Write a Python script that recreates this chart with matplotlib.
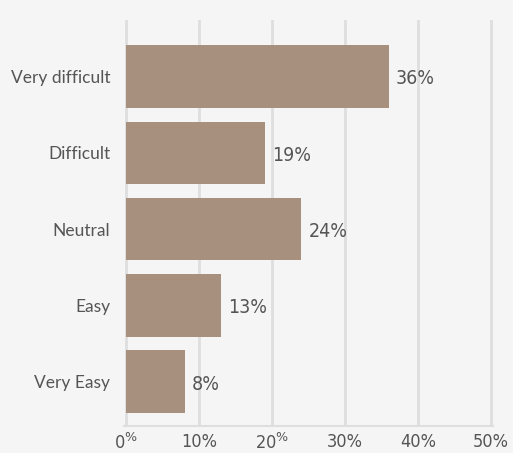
import matplotlib
matplotlib.use("Agg")
import matplotlib.pyplot as plt

categories = ["Very difficult", "Difficult", "Neutral", "Easy", "Very Easy"]
values = [36, 19, 24, 13, 8]
xticks = [0, 10, 20, 30, 40, 50]
xtick_labels = [r"0$^{\%}$", "10%", r"20$^{\%}$", "30%", "40%", "50%"]

bg = "#f5f5f5"
bar_color = "#a8907e"
text_color = "#555555"
grid_color = "#dedede"

fig = plt.figure(figsize=(5.13, 4.53), dpi=100, facecolor=bg)
ax = fig.add_axes([124/513, 27/453, (493-124)/513, (426-20)/453], facecolor=bg)

n = len(categories)
ypos = list(range(n - 1, -1, -1))
ax.barh(ypos, values, height=0.82, color=bar_color, zorder=3)

for y, v in zip(ypos, values):
    ax.text(v + 1.0, y - 0.03, f"{v}%", va="center", ha="left", fontsize=14,
            color=text_color, family="DejaVu Sans", stretch="condensed")

ax.set_xlim(-0.3, 50.3)
ax.set_ylim(-0.58, 4.74)
ax.set_yticks(ypos)
ax.set_yticklabels(categories, fontsize=12.5, color=text_color, family="Lato")
ax.set_xticks(xticks)
ax.set_xticklabels(xtick_labels, fontsize=13, color=text_color,
                   family="DejaVu Sans", stretch="condensed")
ax.tick_params(axis="y", length=0, pad=10)
ax.tick_params(axis="x", length=0, pad=5)
ax.grid(axis="x", color=grid_color, linewidth=2, zorder=0)
for s in ["top", "right", "left"]:
    ax.spines[s].set_visible(False)
ax.spines["bottom"].set_color(grid_color)
ax.spines["bottom"].set_linewidth(1.5)

fig.savefig("out.png", dpi=100, facecolor=bg)
